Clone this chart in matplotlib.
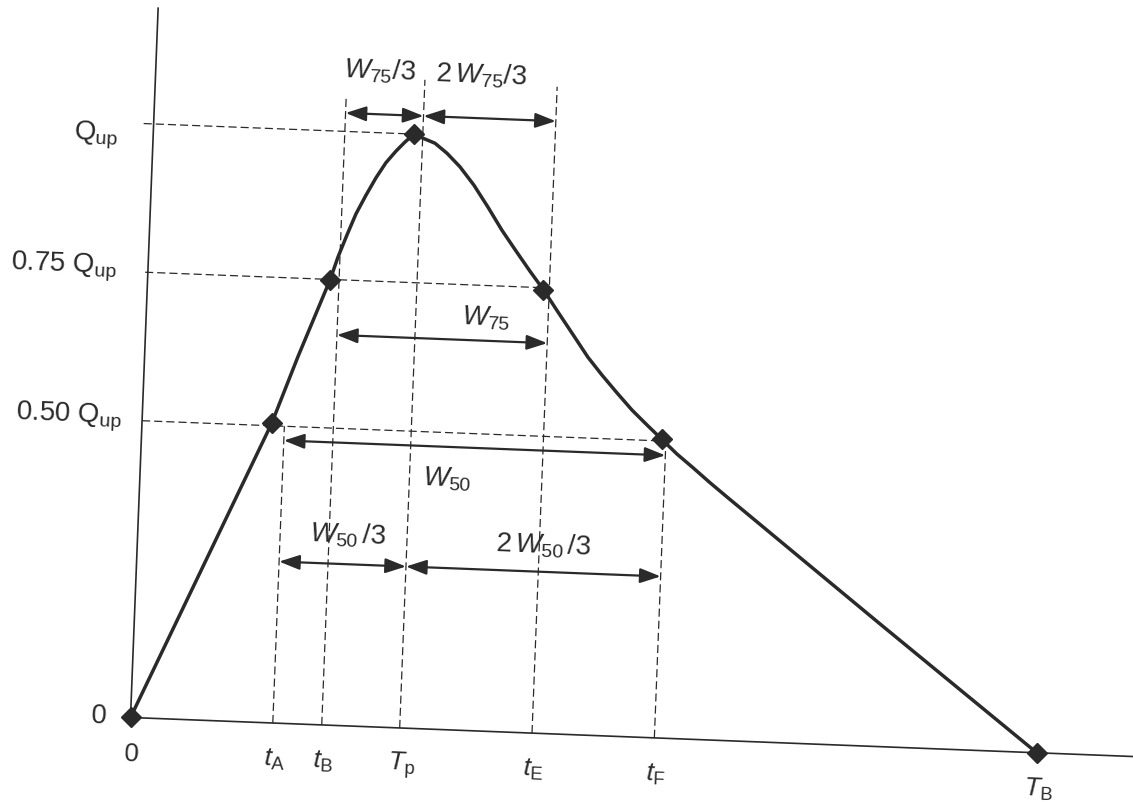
import matplotlib
matplotlib.use("Agg")
import matplotlib.pyplot as plt
from matplotlib.patches import ArrowStyle, FancyArrowPatch
from matplotlib.transforms import Affine2D

plt.rcParams["font.family"] = ["Liberation Sans", "DejaVu Sans"]
plt.rcParams["mathtext.fontset"] = "custom"
plt.rcParams["mathtext.rm"] = "Liberation Sans"
plt.rcParams["mathtext.it"] = "Liberation Sans:italic"
plt.rcParams["mathtext.bf"] = "Liberation Sans:bold"

INK = "#2a2a2a"
TILT = -2.23  # the scan is turned slightly clockwise

# hydrograph: time (T_B = 10) and Q / Q_up
curve_t = [0.0, 1.429, 1.690, 2.010, 2.088, 2.178, 2.268, 2.370, 2.473,
           2.576, 2.681, 2.777, 2.874, 2.985, 3.108, 3.244, 3.393, 3.555,
           3.719, 3.883, 4.047, 4.209, 4.364, 4.536, 4.711, 4.885, 5.047,
           5.220, 5.393, 5.564, 5.732, 5.907, 6.090, 6.283, 6.477, 8.217,
           10.0]
curve_q = [0.0, 0.504, 0.618, 0.749, 0.788, 0.826, 0.862, 0.894, 0.924,
           0.950, 0.970, 0.986, 1.0, 0.993, 0.986, 0.970, 0.948, 0.918,
           0.882, 0.844, 0.810, 0.777, 0.747, 0.710, 0.673, 0.636, 0.607,
           0.578, 0.550, 0.526, 0.503, 0.479, 0.457, 0.433, 0.410, 0.2065,
           0.0]

# diamonds on the curve
mark_t = [0.0, 1.429, 2.010, 2.874, 4.364, 5.732, 10.0]
mark_q = [0.0, 0.504, 0.749, 1.00, 0.747, 0.503, 0.0]

# times on the x axis
time_names = ["0", r"$t_\mathrm{A}$", r"$t_\mathrm{B}$", r"$T_\mathrm{p}$",
              r"$t_\mathrm{E}$", r"$t_\mathrm{F}$", r"$T_\mathrm{B}$"]
time_t = [0.0, 1.57, 2.11, 2.97, 4.43, 5.78, 10.0]

# discharge levels on the y axis
q_names = [r"$\mathrm{Q}_\mathrm{up}$", r"0.75 $\mathrm{Q}_\mathrm{up}$",
           r"0.50 $\mathrm{Q}_\mathrm{up}$", "0"]
q_levels = [1.0, 0.75, 0.50, 0.0]

fig = plt.figure(figsize=(11.33, 8.02), dpi=100)
ax = fig.add_axes([0, 0, 1, 1])
ax.set_xlim(-1.439, 11.053)
ax.set_ylim(-0.1423, 1.2079)
ax.axis("off")

ox, oy = ax.transData.transform((0.0, 0.0))
tr = ax.transData + Affine2D().rotate_deg_around(ox, oy, TILT)

dash = dict(color=INK, lw=0.9, ls=(0, (6.5, 3.2)), transform=tr)

# axes
ax.plot([0, 0], [0, 1.195], color=INK, lw=1.2, transform=tr)
ax.plot([0, 11.5], [0, 0], color=INK, lw=1.2, transform=tr)

# horizontal guides: level -> end at the matching point on the curve
h_start = [-0.11, -0.03, 0.0]
h_end = [mark_t[3], mark_t[4], mark_t[5]]
for q, x0, x1 in zip(q_levels[:3], h_start, h_end):
    ax.plot([x0, x1], [q, q], **dash)

# vertical guides from the axis up
v_top = [None, 0.50, 1.058, 1.092, 1.089, 0.50, None]
for t, top in zip(time_t, v_top):
    if top is not None:
        ax.plot([t, t], [0, top], **dash)

ax.plot(curve_t, curve_q, color=INK, lw=2.5, solid_capstyle="round",
        solid_joinstyle="round", transform=tr, zorder=3)
ax.plot(mark_t, mark_q, ls="none", marker="D", ms=10.5, color=INK,
        transform=tr, zorder=4)

style = ArrowStyle("<|-|>", head_length=1.25, head_width=0.45)


def dim(x0, x1, y):
    a = FancyArrowPatch((x0, y), (x1, y), arrowstyle=style, mutation_scale=10,
                        color=INK, lw=1.6, shrinkA=0, shrinkB=0,
                        transform=tr, zorder=3)
    ax.add_patch(a)


tA, tB, Tp, tE, tF = time_t[1:6]
dim(tB, Tp, 1.031)
dim(Tp, tE, 1.031)
dim(tB, tE, 0.657)
dim(tA, tF, 0.476)
dim(tA, Tp, 0.272)
dim(Tp, tF, 0.272)

txt = dict(color=INK, transform=tr, rotation=TILT, rotation_mode="anchor",
           ha="center", va="center", fontsize=20)
ax.text(2.47, 1.104, r"$W_{75}/3$", **txt)
ax.text(3.59, 1.103, r"$2\,W_{75}/3$", **txt)
ax.text(3.74, 0.695, r"$W_{75}$", **txt)
ax.text(3.39, 0.422, r"$W_{50}$", **txt)
ax.text(2.32, 0.321, r"$W_{50}\,/3$", **txt)
ax.text(4.47, 0.316, r"$2\,W_{50}\,/3$", **txt)

ylab = dict(color=INK, transform=tr, rotation=TILT, rotation_mode="anchor",
            ha="right", va="center", fontsize=20)
q_xpos = [-0.39, -0.345, -0.226, -0.26]
q_ypos = [0.978, 0.755, 0.503, 0.0]
for s, x, y in zip(q_names, q_xpos, q_ypos):
    ax.text(x, y, s, **ylab)

xlab = dict(color=INK, transform=tr, rotation=TILT, rotation_mode="anchor",
            ha="center", va="center", fontsize=19)
for s, t in zip(time_names, time_t):
    ax.text(t + 0.03, -0.062, s, **xlab)

fig.savefig("out.png", dpi=100, facecolor="white")
